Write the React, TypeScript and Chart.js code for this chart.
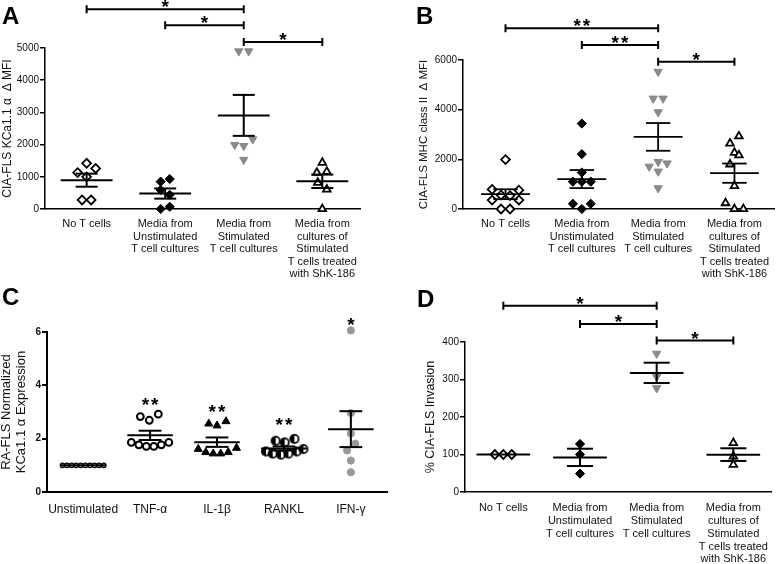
import React, { useEffect, useRef } from 'react';
import { Chart, registerables } from 'chart.js';
Chart.register(...registerables);

const FONT = '"Liberation Sans", Arial, Helvetica, sans-serif';

// ---------- shared category labels ----------
const groupLabels = [
  ['No T cells'],
  ['Media from', 'Unstimulated', 'T cell cultures'],
  ['Media from', 'Stimulated', 'T cell cultures'],
  ['Media from', 'cultures of', 'Stimulated', 'T cells treated', 'with ShK-186'],
];
const cytokineLabels = ['Unstimulated', 'TNF-α', 'IL-1β', 'RANKL', 'IFN-γ'];

// ---------- Panel A: KCa1.1 α ΔMFI ----------
const aNoT = [1420, 1260, 1130, 1000, 280, 280];
const aUnstim = [930, 850, 590, 440, 70, 0];
const aStim = [4900, 4900, 1990, 1960, 2165, 1530];
const aShK = [1440, 1130, 1160, 820, 610, 0];
const aSlots = [
  [0, 1, -1, 0, -0.5, 0.5],
  [0.5, -0.5, -0.5, 0.5, 0.5, -0.5],
  [-0.55, 0.55, -1, 0, 1, 0],
  [0, -0.6, 0.5, -0.5, 0.5, 0],
];
const aTicks = [0, 1000, 2000, 3000, 4000, 5000];
const aBrackets = [
  { from: 0, to: 2, level: 6200, label: '*' },
  { from: 1, to: 2, level: 5710, label: '*' },
  { from: 2, to: 3, level: 5185, label: '*' },
];

// ---------- Panel B: MHC class II ΔMFI ----------
const bNoT = [1990, 790, 760, 560, 540, 360, 360, 0, 0];
const bUnstim = [3440, 2210, 1470, 1100, 1100, 1100, 210, 210, 0];
const bStim = [5530, 4450, 4450, 3900, 1710, 1900, 1840, 1510, 840];
const bShK = [2930, 2640, 2270, 2170, 1800, 930, 240, 0, 0];
const bSlots = [
  [0, -1.5, 1.5, -0.5, 0.5, -1.5, 1.5, -0.5, 0.5],
  [0, 0, 0, -1, 0, 1, -1, 1, 0],
  [0, -0.55, 0.55, 0, -1, 0, 1, 0, 0],
  [0.5, -0.5, 0, 0.5, -0.5, 0, -1, 0, 1],
];
const bTicks = [0, 2000, 4000, 6000];
const bBrackets = [
  { from: 0, to: 2, level: 7275, label: '**' },
  { from: 1, to: 2, level: 6600, label: '**' },
  { from: 2, to: 3, level: 5930, label: '*' },
];

// ---------- Panel C: RA-FLS normalized KCa1.1 α expression ----------
const cUnstim = [1, 1, 1, 1, 1, 1, 1, 1, 1, 1];
const cTNF = [2.83, 2.69, 2.92, 1.86, 1.77, 1.71, 1.71, 1.77, 1.86];
const cIL1 = [2.56, 2.49, 2.65, 1.61, 1.49, 1.44, 1.44, 1.49, 1.65];
const cRANKL = [1.92, 1.86, 1.99, 1.52, 1.44, 1.4, 1.44, 1.52, 1.61];
const cIFN = [6.06, 2.96, 2.19, 1.81, 1.56, 1.18, 0.74];
const cSlots = [
  [-2.75, -2.14, -1.53, -0.92, -0.31, 0.31, 0.92, 1.53, 2.14, 2.75],
  [-1.3, -0.1, 1.1, -2.5, -1.5, -0.5, 0.5, 1.5, 2.5],
  [-1.1, 0, 1.2, -2.5, -1.5, -0.5, 0.5, 1.5, 2.6],
  [-1.1, 0.1, 1.4, -2.4, -1.5, -0.4, 0.6, 1.7, 2.6],
  [0, 0, 0, 0.6, -0.5, 0, 0],
];
const cTicks = [0, 2, 4, 6];
const cStars = [
  { at: 1, level: 3.4, label: '**' },
  { at: 2, level: 3.15, label: '**' },
  { at: 3, level: 2.65, label: '**' },
  { at: 4, level: 6.4, label: '*' },
];

// ---------- Panel D: % CIA-FLS invasion ----------
const dNoT = [100, 100, 100];
const dUnstim = [128, 100, 49];
const dStim = [369, 307, 277];
const dShK = [131, 95, 73];
const dSlots = [
  [-1, 0, 1],
  [0, 0, 0],
  [0, 0, 0],
  [0, 0, 0],
];
const dTicks = [0, 100, 200, 300, 400];
const dBrackets = [
  { from: 0, to: 2, level: 497, label: '*' },
  { from: 1, to: 2, level: 448, label: '*' },
  { from: 2, to: 3, level: 404, label: '*' },
];

// ---------- helpers ----------
function meanSem(v: number[]) {
  const n = v.length;
  const m = v.reduce((a, b) => a + b, 0) / n;
  const sd = Math.sqrt(v.reduce((a, b) => a + (b - m) * (b - m), 0) / (n - 1));
  return [m, sd / Math.sqrt(n)];
}

function summaryDatasets(groups: number[][], meanHalf: number, semHalf: number, lw: number) {
  const out: any[] = [];
  const seg = (x1: number, y1: number, x2: number, y2: number) =>
    out.push({
      data: [{ x: x1, y: y1 }, { x: x2, y: y2 }],
      showLine: true,
      borderColor: '#000',
      borderWidth: lw,
      pointRadius: 0,
      pointHoverRadius: 0,
      clip: false,
      borderCapStyle: 'butt',
    });
  groups.forEach((vals, i) => {
    const [m, se] = meanSem(vals);
    seg(i - meanHalf, m, i + meanHalf, m);
    if (se > 0) {
      seg(i - semHalf, m + se, i + semHalf, m + se);
      seg(i - semHalf, m - se, i + semHalf, m - se);
      seg(i, m - se, i, m + se);
    }
  });
  return out;
}

function pointDataset(vals: number[], slots: number[], center: number, slotW: number, style: any) {
  return {
    data: vals.map((v, k) => ({ x: center + slots[k] * slotW, y: v })),
    showLine: false,
    clip: false,
    pointStyle: style.shape,
    pointRadius: style.r,
    pointHoverRadius: style.r,
    pointRotation: style.rot || 0,
    pointBackgroundColor: style.fill,
    pointBorderColor: style.stroke,
    pointBorderWidth: style.bw,
    pointHoverBorderWidth: style.bw,
  };
}

function halfCircle() {
  const c = document.createElement('canvas');
  c.width = 12;
  c.height = 12;
  const g = c.getContext('2d')!;
  g.beginPath();
  g.arc(6, 6, 4.1, 0, Math.PI * 2);
  g.fillStyle = '#fff';
  g.fill();
  g.beginPath();
  g.arc(6, 6, 4.1, Math.PI / 2, (3 * Math.PI) / 2);
  g.closePath();
  g.fillStyle = '#000';
  g.fill();
  g.beginPath();
  g.arc(6, 6, 4.1, 0, Math.PI * 2);
  g.lineWidth = 1.8;
  g.strokeStyle = '#000';
  g.stroke();
  return c;
}

function drawStar(ctx: CanvasRenderingContext2D, label: string, cx: number, cy: number) {
  ctx.save();
  ctx.font = `bold 19px ${FONT}`;
  (ctx as any).letterSpacing = label.length > 1 ? '2px' : '0px';
  ctx.textAlign = 'center';
  ctx.textBaseline = 'alphabetic';
  ctx.fillStyle = '#000';
  ctx.fillText(label, cx + (label.length > 1 ? 1 : 0), cy + 10);
  ctx.restore();
}

function makeAnnot(p: any) {
  return {
    id: 'annot',
    afterDraw(chart: any) {
      const { ctx, chartArea, scales } = chart;
      const x = scales.x;
      const y = scales.y;
      ctx.save();
      ctx.fillStyle = '#000';
      ctx.strokeStyle = '#000';
      ctx.font = `bold 24px ${FONT}`;
      ctx.textAlign = 'left';
      ctx.textBaseline = 'alphabetic';
      ctx.fillText(p.letter, p.letterX, p.letterY);

      ctx.font = `${p.titleSize}px ${FONT}`;
      ctx.fillStyle = '#111';
      ctx.textAlign = 'center';
      ctx.textBaseline = 'middle';
      const cy = (chartArea.top + chartArea.bottom) / 2;
      p.title.forEach((line: string, i: number) => {
        ctx.save();
        ctx.translate(p.titleX[i], cy);
        ctx.rotate(-Math.PI / 2);
        ctx.fillText(line, 0, 0);
        ctx.restore();
      });

      ctx.lineWidth = 2;
      (p.brackets || []).forEach((b: any) => {
        const x1 = x.getPixelForValue(b.from);
        const x2 = x.getPixelForValue(b.to);
        const py = y.getPixelForValue(b.level);
        ctx.beginPath();
        ctx.moveTo(x1, py);
        ctx.lineTo(x2, py);
        ctx.moveTo(x1, py - 4);
        ctx.lineTo(x1, py + 4);
        ctx.moveTo(x2, py - 4);
        ctx.lineTo(x2, py + 4);
        ctx.stroke();
        drawStar(ctx, b.label, (x1 + x2) / 2, py - 6);
      });
      (p.stars || []).forEach((s: any) =>
        drawStar(ctx, s.label, x.getPixelForValue(s.at), y.getPixelForValue(s.level))
      );
      ctx.restore();
    },
  };
}

function makeConfig(p: any) {
  return {
    type: 'scatter',
    data: { datasets: [...p.summary, ...p.points] },
    options: {
      animation: false,
      responsive: false,
      events: [],
      layout: {
        autoPadding: false,
        padding: { left: 0, top: p.padTop, right: p.padRight, bottom: 0 },
      },
      plugins: { legend: { display: false }, tooltip: { enabled: false } },
      scales: {
        x: {
          type: 'linear',
          min: p.xMin,
          max: p.xMax,
          afterBuildTicks: (s: any) => {
            s.ticks = p.labels.map((_: any, i: number) => ({ value: i }));
          },
          afterFit: (s: any) => {
            s.height = p.xHeight;
          },
          ticks: {
            callback: (v: number) => p.labels[v],
            autoSkip: false,
            maxRotation: 0,
            minRotation: 0,
            padding: p.xPad,
            color: '#111',
            font: { family: FONT, size: p.xFont, lineHeight: p.xLine },
          },
          grid: { display: false, drawTicks: false },
          border: { display: true, color: '#000', width: p.axisW },
        },
        y: {
          type: 'linear',
          min: 0,
          max: p.yMax,
          afterBuildTicks: (s: any) => {
            s.ticks = p.yTicks.map((v: number) => ({ value: v }));
          },
          afterFit: (s: any) => {
            s.width = p.yWidth;
          },
          ticks: {
            callback: (v: number) => String(v),
            padding: 1,
            color: '#111',
            font: { family: FONT, size: p.yFont, weight: p.yBold ? 'bold' : 'normal' },
          },
          grid: {
            display: true,
            drawOnChartArea: false,
            drawTicks: true,
            tickLength: 5,
            color: '#000',
            lineWidth: p.axisW,
          },
          border: { display: true, color: '#000', width: p.axisW },
        },
      },
    },
    plugins: [makeAnnot(p)],
  };
}

const openDiamond = { shape: 'rectRot', r: 4.4, fill: '#fff', stroke: '#000', bw: 1.8 };
const fillDiamond = { shape: 'rectRot', r: 4.6, fill: '#000', stroke: '#000', bw: 1 };
const grayTri = { shape: 'triangle', r: 4.8, rot: 180, fill: '#8a8a8a', stroke: '#8a8a8a', bw: 1 };
const openTri = { shape: 'triangle', r: 4.4, fill: '#fff', stroke: '#000', bw: 1.8 };

function buildA() {
  const groups = [aNoT, aUnstim, aStim, aShK];
  const styles = [openDiamond, fillDiamond, grayTri, openTri];
  return makeConfig({
    summary: summaryDatasets(groups, 0.33, 0.14, 2),
    points: groups.map((g, i) => pointDataset(g, aSlots[i], i, 0.115, styles[i])),
    padTop: 48, padRight: 30, xHeight: 73, yWidth: 45,
    xMin: -0.53, xMax: 3.48, labels: groupLabels, xPad: 9, xFont: 11, xLine: 1.14,
    yMax: 5000, yTicks: aTicks, yFont: 10, axisW: 1.5,
    letter: 'A', letterX: 2, letterY: 24,
    title: ['CIA-FLS KCa1.1 α  Δ MFI'], titleX: [7.5], titleSize: 12,
    brackets: aBrackets,
  });
}

function buildB() {
  const groups = [bNoT, bUnstim, bStim, bShK];
  const styles = [openDiamond, fillDiamond, grayTri, openTri];
  return makeConfig({
    summary: summaryDatasets(groups, 0.32, 0.16, 1.8),
    points: groups.map((g, i) => pointDataset(g, bSlots[i], i, 0.117, styles[i])),
    padTop: 60, padRight: 0, xHeight: 73, yWidth: 73,
    xMin: -0.557, xMax: 3.523, labels: groupLabels, xPad: 9, xFont: 11, xLine: 1.14,
    yMax: 6000, yTicks: bTicks, yFont: 10, axisW: 1.5,
    letter: 'B', letterX: 26, letterY: 24,
    title: ['CIA-FLS MHC class II  Δ MFI'], titleX: [34], titleSize: 11.5,
    brackets: bBrackets,
  });
}

function buildC() {
  const groups = [cUnstim, cTNF, cIL1, cRANKL, cIFN];
  const styles = [
    { shape: 'circle', r: 2.2, fill: '#fff', stroke: '#000', bw: 1.4 },
    { shape: 'circle', r: 3.4, fill: '#fff', stroke: '#000', bw: 2 },
    { shape: 'triangle', r: 4.6, fill: '#000', stroke: '#000', bw: 1 },
    { shape: halfCircle(), r: 4, fill: '#000', stroke: '#000', bw: 1 },
    { shape: 'circle', r: 3.6, fill: '#999', stroke: '#999', bw: 1 },
  ];
  return makeConfig({
    summary: summaryDatasets(groups, 0.34, 0.17, 2),
    points: groups.map((g, i) => pointDataset(g, cSlots[i], i, 0.112, styles[i])),
    padTop: 50, padRight: 3, xHeight: 72, yWidth: 47,
    xMin: -0.54, xMax: 4.54, labels: cytokineLabels, xPad: 10.5, xFont: 12, xLine: 1.15,
    yMax: 6, yTicks: cTicks, yFont: 10, yBold: true, axisW: 2,
    letter: 'C', letterX: 2, letterY: 23,
    title: ['RA-FLS Normalized', 'KCa1.1 α Expression'], titleX: [6, 21], titleSize: 13,
    stars: cStars,
  });
}

function buildD() {
  const groups = [dNoT, dUnstim, dStim, dShK];
  const styles = [openDiamond, fillDiamond, grayTri, openTri];
  return makeConfig({
    summary: summaryDatasets(groups, 0.35, 0.17, 2),
    points: groups.map((g, i) => pointDataset(g, dSlots[i], i, 0.11, styles[i])),
    padTop: 60, padRight: 1, xHeight: 72, yWidth: 75,
    xMin: -0.5, xMax: 3.5, labels: groupLabels, xPad: 10, xFont: 11, xLine: 1.16,
    yMax: 400, yTicks: dTicks, yFont: 10, axisW: 1.5,
    letter: 'D', letterX: 27, letterY: 25,
    title: ['% CIA-FLS Invasion'], titleX: [41], titleSize: 12.5,
    brackets: dBrackets,
  });
}

function Panel(props: { left: number; top: number; width: number; height: number; build: () => any }) {
  const ref = useRef<HTMLCanvasElement>(null);
  useEffect(() => {
    const chart = new Chart(ref.current as HTMLCanvasElement, props.build());
    return () => chart.destroy();
  }, []);
  const { left, top, width, height } = props;
  return (
    <div style={{ position: 'absolute', left, top, width, height }}>
      <canvas ref={ref} width={width} height={height} style={{ width, height, display: 'block' }} />
    </div>
  );
}

export default function App() {
  return (
    <div style={{ position: 'absolute', left: 0, top: 0, width: 778, height: 564, background: '#fff', overflow: 'hidden' }}>
      <Panel left={0} top={0} width={390} height={282} build={buildA} />
      <Panel left={390} top={0} width={388} height={282} build={buildB} />
      <Panel left={0} top={282} width={390} height={282} build={buildC} />
      <Panel left={390} top={282} width={388} height={282} build={buildD} />
    </div>
  );
}
